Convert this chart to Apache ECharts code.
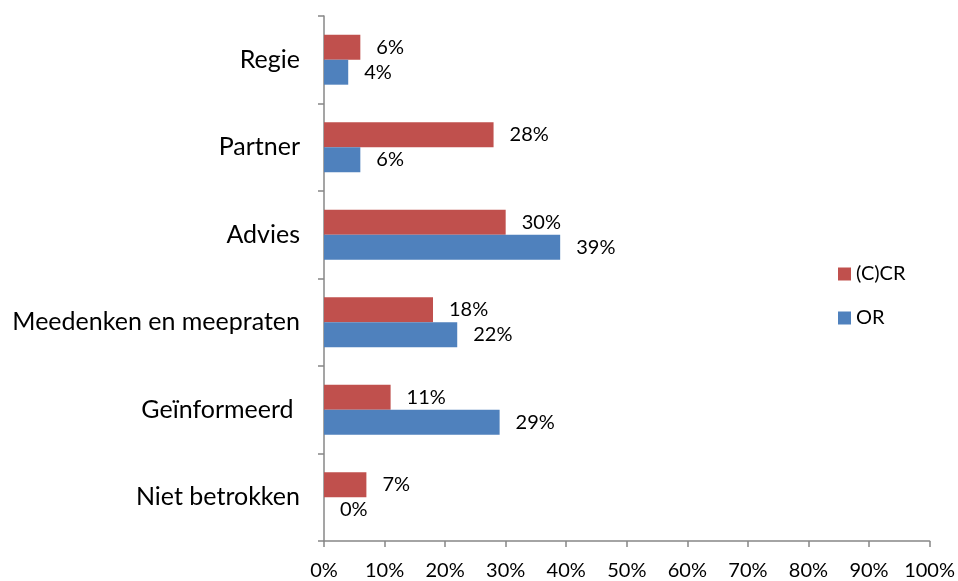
<!DOCTYPE html>
<html>
<head>
<meta charset="utf-8">
<script src="https://cdn.jsdelivr.net/npm/echarts@6/dist/echarts.min.js"></script>
<style>
  html, body { margin: 0; padding: 0; background: #fff; }
  #chart { width: 958px; height: 581px; }
</style>
</head>
<body>
<div id="chart"></div>
<script>
// categories from bottom to top
const categories = ['Niet betrokken', 'Geïnformeerd ', 'Meedenken en meepraten', 'Advies', 'Partner', 'Regie']
const ccrValues = [7, 11, 18, 30, 28, 6]
const orValues = [0, 29, 22, 39, 6, 4]
const xTicks = [0, 10, 20, 30, 40, 50, 60, 70, 80, 90, 100]

const font = 'Lato, "Open Sans", sans-serif'
const axisColor = '#878787'

const chart = echarts.init(document.getElementById('chart'))

const labelStyle = {
  show: true,
  position: 'right',
  distance: 16,
  formatter: p => p.value + '%',
  color: '#000',
  fontSize: 20,
  fontFamily: font
}

chart.setOption({
  animation: false,
  grid: { left: 324, right: 28, top: 16, bottom: 39, containLabel: false },
  legend: {
    orient: 'vertical',
    left: 833,
    top: 259,
    itemWidth: 13,
    itemHeight: 13,
    itemGap: 24,
    icon: 'rect',
    data: ['(C)CR', 'OR'],
    textStyle: { fontSize: 20, fontFamily: font, color: '#000' }
  },
  xAxis: {
    type: 'value',
    min: xTicks[0],
    max: xTicks[xTicks.length - 1],
    interval: 10,
    splitLine: { show: false },
    axisLine: { show: true, lineStyle: { color: axisColor, width: 1.5 } },
    axisTick: { show: true, length: 6, lineStyle: { color: axisColor, width: 1.5 } },
    axisLabel: {
      formatter: v => v + '%',
      color: '#000',
      fontSize: 20,
      fontFamily: font,
      margin: 20
    }
  },
  yAxis: {
    type: 'category',
    data: categories,
    axisLine: { show: true, lineStyle: { color: axisColor, width: 1.5 } },
    axisTick: { show: true, length: 6, lineStyle: { color: axisColor, width: 1.5 } },
    axisLabel: {
      color: '#000',
      fontSize: 25,
      fontFamily: font,
      margin: 24
    }
  },
  series: [
    {
      name: '(C)CR',
      type: 'bar',
      data: ccrValues,
      barGap: '0%',
      barCategoryGap: '43%',
      itemStyle: { color: '#C0504D' },
      label: labelStyle
    },
    {
      name: 'OR',
      type: 'bar',
      data: orValues,
      barGap: '0%',
      barCategoryGap: '43%',
      itemStyle: { color: '#4F81BD' },
      label: labelStyle
    }
  ]
})
</script>
</body>
</html>
